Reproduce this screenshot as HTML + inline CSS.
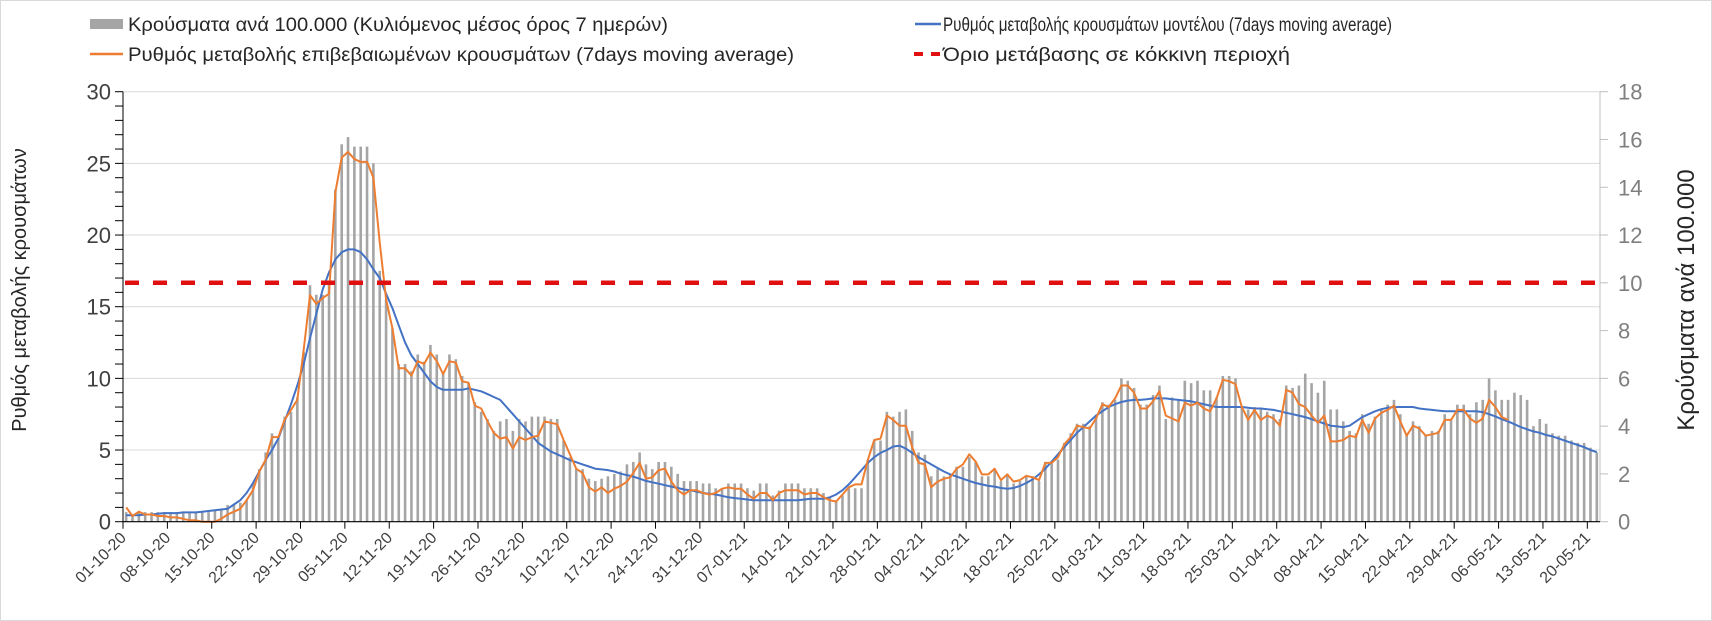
<!DOCTYPE html>
<html><head><meta charset="utf-8"><style>
html,body{margin:0;padding:0;background:#fff;}
svg{display:block;font-family:"Liberation Sans",Arial,sans-serif;}
</style></head><body>
<svg id="chart" width="1712" height="621" viewBox="0 0 1712 621" xmlns="http://www.w3.org/2000/svg">
<rect x="0.5" y="0.5" width="1711" height="620" fill="#fff" stroke="#d9d9d9"/>
<g>
 <g><rect x="90" y="19" width="33" height="10" fill="#a5a5a5"/><text x="128" y="31" font-size="19" fill="#262626" textLength="540" lengthAdjust="spacingAndGlyphs">Κρούσματα ανά 100.000 (Κυλιόμενος μέσος όρος 7 ημερών)</text></g>
 <g><line x1="90" y1="54" x2="123" y2="54" stroke="#ed7d31" stroke-width="2.5"/><text x="128" y="61" font-size="19" fill="#262626" textLength="666" lengthAdjust="spacingAndGlyphs">Ρυθμός μεταβολής επιβεβαιωμένων κρουσμάτων (7days moving average)</text></g>
 <g><line x1="915" y1="24" x2="941" y2="24" stroke="#4472c4" stroke-width="2.5"/><text x="943" y="31" font-size="19" fill="#262626" textLength="449" lengthAdjust="spacingAndGlyphs">Ρυθμός μεταβολής κρουσμάτων μοντέλου (7days moving average)</text></g>
 <g><line x1="914" y1="54" x2="942" y2="54" stroke="#e01010" stroke-width="4" stroke-dasharray="9,8"/><text x="943" y="61" font-size="19" fill="#262626" textLength="347" lengthAdjust="spacingAndGlyphs">Όριο μετάβασης σε κόκκινη περιοχή</text></g>
</g>
<g id="grid"></g><g id="bars"></g><g id="lines"></g><g id="axes"></g>
<text transform="translate(26,290) rotate(-90)" text-anchor="middle" font-size="20" fill="#262626">Ρυθμός μεταβολής κρουσμάτων</text>
<text transform="translate(1694,300) rotate(-90)" text-anchor="middle" font-size="24" fill="#262626">Κρούσματα ανά 100.000</text>
</svg>
<script>
const barValues=[0.4,0.3,0.4,0.4,0.4,0.4,0.4,0.4,0.4,0.4,0.4,0.4,0.4,0.4,0.45,0.5,0.7,0.7,0.8,0.9,1.6,2.2,2.9,3.7,3.5,4.4,4.6,5.2,7.1,9.9,
9.5,9.5,10.0,13.9,15.8,16.1,15.7,15.7,15.7,15.0,10.5,9.3,8.1,6.6,6.6,6.3,7.0,6.7,7.4,7.0,6.2,7.0,6.8,6.1,5.8,5.0,4.6,4.3,
3.8,4.2,4.3,3.8,4.3,4.2,4.4,4.4,4.4,4.3,4.3,3.4,2.7,2.2,2.2,1.8,1.7,1.8,1.9,2.0,2.1,2.4,2.5,2.9,2.4,2.2,2.5,2.5,2.3,2.0,
1.7,1.7,1.7,1.6,1.6,1.4,1.4,1.6,1.6,1.6,1.4,1.3,1.6,1.6,1.1,1.3,1.6,1.6,1.6,1.4,1.4,1.4,1.2,1.0,0.9,1.1,1.4,1.4,1.4,2.6,
3.4,3.4,4.6,4.4,4.6,4.7,3.8,2.9,2.8,1.9,2.2,1.9,2.0,2.3,2.3,2.7,2.5,1.9,1.9,2.2,1.7,2.0,1.6,1.7,1.9,1.9,1.7,2.5,2.5,2.6,
3.3,3.7,4.1,4.1,4.0,4.4,5.0,4.9,5.1,6.0,5.9,5.6,4.9,4.9,5.3,5.7,4.3,5.2,5.1,5.9,5.8,5.9,
5.5,5.5,5.2,6.1,6.1,6.0,4.8,4.7,4.8,4.7,4.6,4.5,4.3,5.7,5.6,5.7,6.2,5.8,5.4,5.9,4.7,4.7,4.2,3.8,3.7,4.5,4.1,4.4,4.7,4.9,
5.1,4.5,3.7,4.2,4.0,3.6,3.8,3.8,4.5,4.3,4.9,4.9,4.5,5.0,5.1,6.0,5.5,5.1,5.1,5.4,5.3,5.1,4.0,4.3,4.1,3.7,3.6,3.6,3.4,3.3,3.3,3.1,2.9];
const confirmedRate=[1.0,0.4,0.7,0.5,0.5,0.4,0.4,0.3,0.3,0.2,0.1,0.1,0.0,0.0,0.0,0.2,0.5,0.7,0.9,1.5,2.2,3.5,4.3,5.9,5.9,7.1,7.8,8.5,12.0,15.8,
15.2,15.6,15.9,23.0,25.4,25.8,25.3,25.1,25.1,24.0,19.5,15.5,13.5,10.7,10.7,10.2,11.2,11.0,11.8,11.2,10.3,11.2,11.1,9.8,9.7,8.1,7.9,7.0,
6.2,5.8,5.9,5.1,5.9,5.7,5.9,6.0,7.0,6.9,6.8,5.7,4.7,3.7,3.4,2.4,2.1,2.4,2.0,2.3,2.5,2.8,3.4,4.1,3.0,3.1,3.6,3.7,2.8,2.2,
1.9,2.2,2.2,2.0,1.9,2.0,2.3,2.4,2.3,2.3,1.9,1.6,2.0,2.0,1.5,2.0,2.2,2.2,2.2,1.9,2.0,2.0,1.7,1.5,1.4,1.9,2.4,2.6,2.6,4.3,
5.7,5.8,7.4,7.1,6.7,6.7,5.2,4.1,4.0,2.4,2.8,3.0,3.1,3.7,4.0,4.7,4.2,3.3,3.3,3.7,2.9,3.3,2.8,2.9,3.2,3.1,2.9,4.1,4.1,4.5,
5.4,5.9,6.7,6.6,6.5,7.2,8.2,8.0,8.6,9.5,9.5,9.0,7.9,7.9,8.4,9.1,7.4,7.2,7.0,8.3,8.1,8.3,
7.9,7.7,8.6,9.9,9.8,9.6,8.0,7.1,7.8,7.1,7.4,7.2,6.7,9.2,9.0,8.2,8.0,7.4,6.9,7.4,5.6,5.6,5.7,6.0,5.9,7.1,6.2,7.2,7.6,7.8,
8.1,7.0,6.0,6.7,6.5,6.0,6.1,6.2,7.1,7.1,7.8,7.8,7.2,6.9,7.2,8.5,8.0,7.3,7.1];
const modelRate=[0.45,0.45,0.45,0.5,0.5,0.55,0.6,0.6,0.6,0.65,0.65,0.65,0.7,0.75,0.8,0.85,0.9,1.2,1.5,2.0,2.7,3.5,4.3,5.0,5.8,7.0,8.2,9.5,11.0,12.8,
14.5,16.2,17.4,18.3,18.8,19.0,19.0,18.8,18.3,17.6,17.0,15.9,14.9,13.7,12.5,11.6,11.0,10.4,9.8,9.4,9.2,9.2,9.2,9.2,9.3,9.2,9.1,8.9,
8.7,8.5,8.0,7.5,7.0,6.5,6.0,5.5,5.2,4.9,4.7,4.5,4.3,4.15,4.0,3.85,3.7,3.65,3.6,3.5,3.35,3.25,3.15,3.0,2.85,2.75,2.65,2.55,2.45,2.35,
2.25,2.2,2.1,2.0,1.95,1.9,1.8,1.7,1.65,1.6,1.55,1.5,1.5,1.5,1.5,1.5,1.5,1.5,1.5,1.55,1.6,1.6,1.6,1.7,1.9,2.2,2.6,3.1,3.6,4.1,
4.5,4.8,5.0,5.25,5.3,5.1,4.8,4.5,4.25,4.0,3.75,3.5,3.3,3.15,3.0,2.85,2.7,2.6,2.5,2.45,2.35,2.3,2.35,2.5,2.7,2.95,3.3,3.7,4.2,4.7,
5.2,5.7,6.2,6.6,7.0,7.4,7.7,8.0,8.2,8.35,8.45,8.5,8.5,8.55,8.6,8.6,8.6,8.55,8.5,8.45,8.4,8.3,
8.2,8.1,8.0,8.0,8.0,8.0,8.0,7.95,7.9,7.9,7.85,7.8,7.7,7.6,7.5,7.4,7.3,7.15,7.0,6.85,6.7,6.65,6.6,6.7,7.0,7.3,7.5,7.7,7.85,7.95,
8.0,8.0,8.0,8.0,7.9,7.85,7.8,7.75,7.7,7.7,7.7,7.7,7.7,7.7,7.65,7.5,7.35,7.15,7.0,6.8,6.6,6.45,6.3,6.2,6.05,5.95,5.8,5.65,5.5,5.35,5.2,5.0,4.85];
const dateLabels=["01-10-20","08-10-20","15-10-20","22-10-20","29-10-20","05-11-20","12-11-20","19-11-20","26-11-20","03-12-20","10-12-20","17-12-20","24-12-20","31-12-20","07-01-21","14-01-21","21-01-21","28-01-21","04-02-21","11-02-21","18-02-21","25-02-21","04-03-21","11-03-21","18-03-21","25-03-21","01-04-21","08-04-21","15-04-21","22-04-21","29-04-21","06-05-21","13-05-21","20-05-21"];
const leftTicks=[0,5,10,15,20,25,30];
const rightTicks=[0,2,4,6,8,10,12,14,16,18];
const redThreshold=[10];

const NS="http://www.w3.org/2000/svg";
const X0=123,X1=1600,Y0=521.7,YT=91.7,N=233;
const W=(X1-X0)/N;
const xc=i=>X0+(i+0.5)*W;
const xt=i=>X0+i*W;
const yL=v=>Y0-(v/30)*(Y0-YT);
const yR=v=>Y0-(v/18)*(Y0-YT);
function mk(tag,attrs,parent){const e=document.createElementNS(NS,tag);for(const k in attrs)e.setAttribute(k,attrs[k]);parent.appendChild(e);return e;}
const grid=document.getElementById('grid'),bars=document.getElementById('bars'),lines=document.getElementById('lines'),axes=document.getElementById('axes');

leftTicks.forEach(v=>{if(v>0){const g=mk('line',{x1:X0,x2:X1,y1:yL(v),y2:yL(v),stroke:'#d9d9d9','stroke-width':1},grid);

}
const t=mk('text',{x:111,y:yL(v)+8,'text-anchor':'end','font-size':22,fill:'#404040'},axes);t.textContent=v;

});
for(let v=0;v<=30;v++){const tk=mk('line',{x1:115,x2:X0,y1:yL(v),y2:yL(v),stroke:'#000','stroke-width':1},axes);

}
rightTicks.forEach(v=>{const tk=mk('line',{x1:X1,x2:X1+8,y1:yR(v),y2:yR(v),stroke:'#bfbfbf','stroke-width':1},axes);


const t=mk('text',{x:1618,y:yR(v)+8,'font-size':22,fill:'#7f7f7f'},axes);t.textContent=v;

});

barValues.forEach((v,i)=>{const b=mk('rect',{x:xc(i)-1.3,y:yR(v),width:2.6,height:Y0-yR(v),fill:'#a5a5a5'},bars);

});

function path(arr,f){let d='';arr.forEach((v,i)=>{if(v==null)return;d+=(d?'L':'M')+xc(i).toFixed(1)+','+f(v).toFixed(1);});return d;}
const ml=mk('path',{d:path(modelRate,yL),fill:'none',stroke:'#4472c4','stroke-width':2,'stroke-linejoin':'round'},lines);


const ol=mk('path',{d:path(confirmedRate,yL),fill:'none',stroke:'#ed7d31','stroke-width':2,'stroke-linejoin':'round'},lines);


const rl=mk('line',{x1:X0+2,x2:X1,y1:yR(redThreshold[0]),y2:yR(redThreshold[0]),stroke:'#e01010','stroke-width':4.5,'stroke-dasharray':'14,14'},lines);



const la=mk('line',{x1:X0,x2:X0,y1:YT,y2:Y0,stroke:'#000','stroke-width':1},axes);


const ra=mk('line',{x1:X1,x2:X1,y1:YT,y2:Y0,stroke:'#bfbfbf','stroke-width':1},axes);


const xa=mk('line',{x1:X0,x2:X1,y1:Y0,y2:Y0,stroke:'#000','stroke-width':1.2},axes);


dateLabels.forEach((s,k)=>{const x=xt(k*7);
const tk=mk('line',{x1:x,x2:x,y1:Y0,y2:Y0+7,stroke:'#000','stroke-width':1},axes);


const t=mk('text',{x:0,y:0,'text-anchor':'end','font-size':16,fill:'#404040',transform:`translate(${x+4},${Y0+17}) rotate(-45)`},axes);t.textContent=s;

});
</script>
</body></html>
